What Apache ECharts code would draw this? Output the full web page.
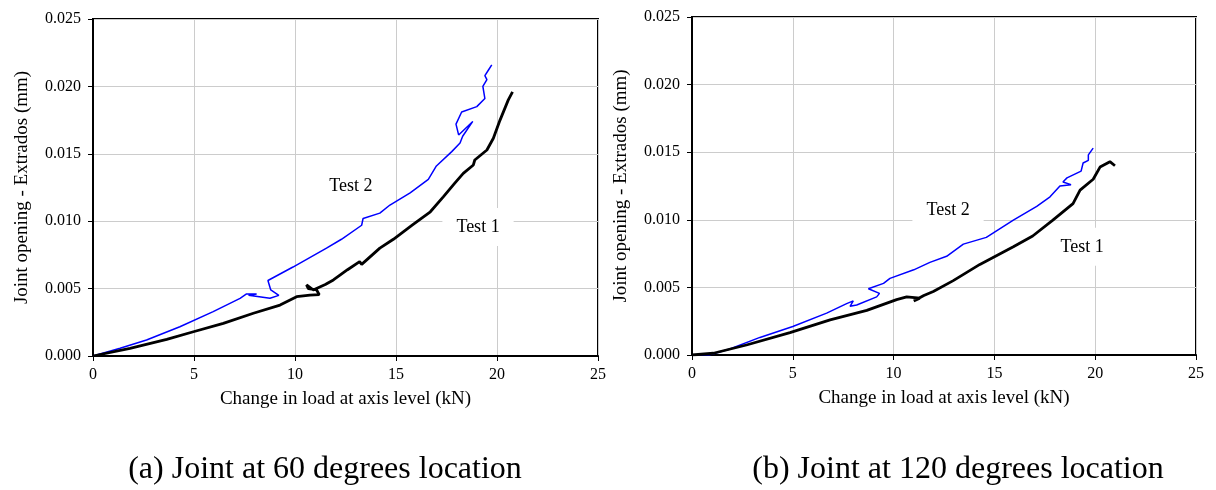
<!DOCTYPE html>
<html>
<head>
<meta charset="utf-8">
<script src="https://cdn.jsdelivr.net/npm/echarts@6/dist/echarts.min.js"></script>
<style>
  html, body { margin: 0; padding: 0; background: #fff; }
  #chart { width: 1216px; height: 490px; }
</style>
</head>
<body>
<div id="chart"></div>
<script>
// Ejes compartidos
const xTicks = [0, 5, 10, 15, 20, 25];
const yTicks = [0, 0.005, 0.010, 0.015, 0.020, 0.025];

// (a) junta a 60 grados: [carga kN, apertura mm]
const test1At60 = [
  [0, 0], [1.83, 0.00057], [3.65, 0.00124], [4.97, 0.0018], [6.45, 0.00242],
  [7.94, 0.00317], [9.26, 0.00378], [10.08, 0.0044], [10.74, 0.00452], [11.2, 0.00455],
  [11.07, 0.0049], [10.66, 0.0050], [10.57, 0.00527], [10.9, 0.0049], [11.5, 0.0053],
  [11.9, 0.00564], [12.6, 0.0064], [13.2, 0.0070], [13.3, 0.0068], [14.2, 0.0080],
  [14.87, 0.00866], [15.8, 0.0097], [16.7, 0.0107], [17.34, 0.0118], [17.9, 0.0128],
  [18.33, 0.01355], [18.83, 0.01417], [18.9, 0.01454], [19.5, 0.01528], [19.82, 0.01615],
  [20.15, 0.0175], [20.56, 0.019], [20.77, 0.0196]
];
const test2At60 = [
  [0, 0], [1.34, 0.00057], [2.65, 0.00119], [4.3, 0.00217], [5.95, 0.00329],
  [7.28, 0.00428], [7.6, 0.0046], [8.1, 0.0046], [7.7, 0.0045], [8.76, 0.00428],
  [9.2, 0.0045], [8.8, 0.0049], [8.66, 0.0056], [9.9, 0.0066], [11.56, 0.008],
  [12.3, 0.00866], [13.3, 0.0097], [13.37, 0.0102], [14.2, 0.0106], [14.7, 0.0112],
  [15.7, 0.0121], [16.6, 0.0131], [17.0, 0.0141], [17.76, 0.01516], [18.17, 0.0158],
  [18.3, 0.0163], [18.8, 0.0174], [18.1, 0.0164], [17.97, 0.0172], [18.25, 0.0181],
  [19.0, 0.0185], [19.4, 0.0191], [19.3, 0.0200], [19.5, 0.0205], [19.4, 0.0208],
  [19.57, 0.0212], [19.74, 0.0216]
];

// (b) junta a 120 grados
const test1At120 = [
  [0, 0], [1.06, 0.00013], [2.7, 0.00074], [4.86, 0.00165], [6.85, 0.0026],
  [8.67, 0.0033], [10.15, 0.0041], [10.65, 0.0043], [11.3, 0.0042], [11.0, 0.0040],
  [11.5, 0.0044], [11.97, 0.0047], [12.96, 0.0055], [14.28, 0.0067],
  [15.94, 0.008], [16.9, 0.0088], [17.9, 0.00998], [18.9, 0.0112], [19.25, 0.0122],
  [19.9, 0.013], [20.24, 0.0139], [20.73, 0.0143], [20.98, 0.014]
];
const test2At120 = [
  [0, 0], [0.84, 0], [1.88, 0.00044], [3.37, 0.0013], [5.0, 0.00211],
  [6.68, 0.0031], [7.67, 0.0038], [8.0, 0.004], [7.84, 0.0036], [8.17, 0.0037],
  [9.16, 0.0043], [9.3, 0.00456], [8.75, 0.0049], [9.5, 0.0053], [9.82, 0.00567],
  [11.0, 0.0063], [11.8, 0.00685], [12.63, 0.0073], [13.46, 0.0082], [14.6, 0.0087],
  [15.94, 0.00998], [17.1, 0.011], [17.76, 0.0117], [18.25, 0.0125], [18.8, 0.0126],
  [18.4, 0.0128], [18.6, 0.0131], [19.3, 0.0136], [19.4, 0.0142], [19.66, 0.0144],
  [19.66, 0.0148], [19.9, 0.0153]
];

const curveLabels = ['Test 1', 'Test 2'];
const labelPos60 = [[19.06, 0.00957], [12.77, 0.0126]];
const labelPos120 = [[19.35, 0.0080], [12.7, 0.01072]];
const captions = ['(a) Joint at 60 degrees location', '(b) Joint at 120 degrees location'];

const FONT = '"Liberation Serif", "DejaVu Serif", serif';

function xAxisDef(idx) {
  return {
    gridIndex: idx, type: 'value', min: 0, max: 25, interval: 5,
    name: 'Change in load at axis level (kN)', nameLocation: 'middle', nameGap: 34,
    nameTextStyle: { fontFamily: FONT, fontSize: 19, color: '#000' },
    axisLine: { lineStyle: { color: '#000', width: 2 } },
    axisTick: { show: true, length: 5, lineStyle: { color: '#000' } },
    axisLabel: { fontFamily: FONT, fontSize: 16, color: '#000', margin: 11 },
    splitLine: { show: true, lineStyle: { color: '#cccccc', width: 1 } }
  };
}

function yAxisDef(idx) {
  return {
    gridIndex: idx, type: 'value', min: 0, max: 0.025, interval: 0.005,
    name: 'Joint opening - Extrados (mm)', nameLocation: 'middle', nameGap: 61,
    nameTextStyle: { fontFamily: FONT, fontSize: 19, color: '#000' },
    axisLine: { show: true, lineStyle: { color: '#000', width: 2 } },
    axisTick: { show: true, length: 5, lineStyle: { color: '#000' } },
    axisLabel: { fontFamily: FONT, fontSize: 16, color: '#000', margin: 12,
      formatter: v => v.toFixed(3) },
    splitLine: { show: true, lineStyle: { color: '#cccccc', width: 1 } }
  };
}

function curve(name, data, idx, color, width) {
  return {
    name, type: 'line', xAxisIndex: idx, yAxisIndex: idx, data,
    showSymbol: false, symbol: 'none', animation: false,
    lineStyle: { color, width }
  };
}

function labelSeries(pos, idx) {
  return {
    type: 'scatter', xAxisIndex: idx, yAxisIndex: idx, symbolSize: 0, animation: false,
    itemStyle: { opacity: 1 },
    data: pos.map((p, i) => ({ value: p, name: curveLabels[i] })),
    label: {
      show: true, position: 'inside', formatter: '{b}', opacity: 1,
      fontFamily: FONT, fontSize: 18, color: '#000',
      backgroundColor: '#fff', padding: [10, 14]
    },
    z: 10
  };
}

const chart = echarts.init(document.getElementById('chart'));
chart.setOption({
  backgroundColor: '#fff',
  grid: [
    { left: 93, top: 19, width: 505, height: 337, show: true, borderColor: '#000', borderWidth: 2 },
    { left: 692, top: 17, width: 504, height: 338, show: true, borderColor: '#000', borderWidth: 2 }
  ],
  xAxis: [xAxisDef(0), xAxisDef(1)],
  yAxis: [yAxisDef(0), yAxisDef(1)],
  series: [
    curve('Test 2', test2At60, 0, '#0000ff', 1.5),
    curve('Test 1', test1At60, 0, '#000000', 2.8),
    curve('Test 2', test2At120, 1, '#0000ff', 1.5),
    curve('Test 1', test1At120, 1, '#000000', 2.8),
    labelSeries(labelPos60, 0),
    labelSeries(labelPos120, 1)
  ],
  graphic: [
    { type: 'text', x: 325, y: 470, style: { text: captions[0], font: '32px ' + FONT,
      fill: '#000', textAlign: 'center', textVerticalAlign: 'middle' } },
    { type: 'text', x: 958, y: 470, style: { text: captions[1], font: '32px ' + FONT,
      fill: '#000', textAlign: 'center', textVerticalAlign: 'middle' } }
  ]
});
</script>
</body>
</html>
